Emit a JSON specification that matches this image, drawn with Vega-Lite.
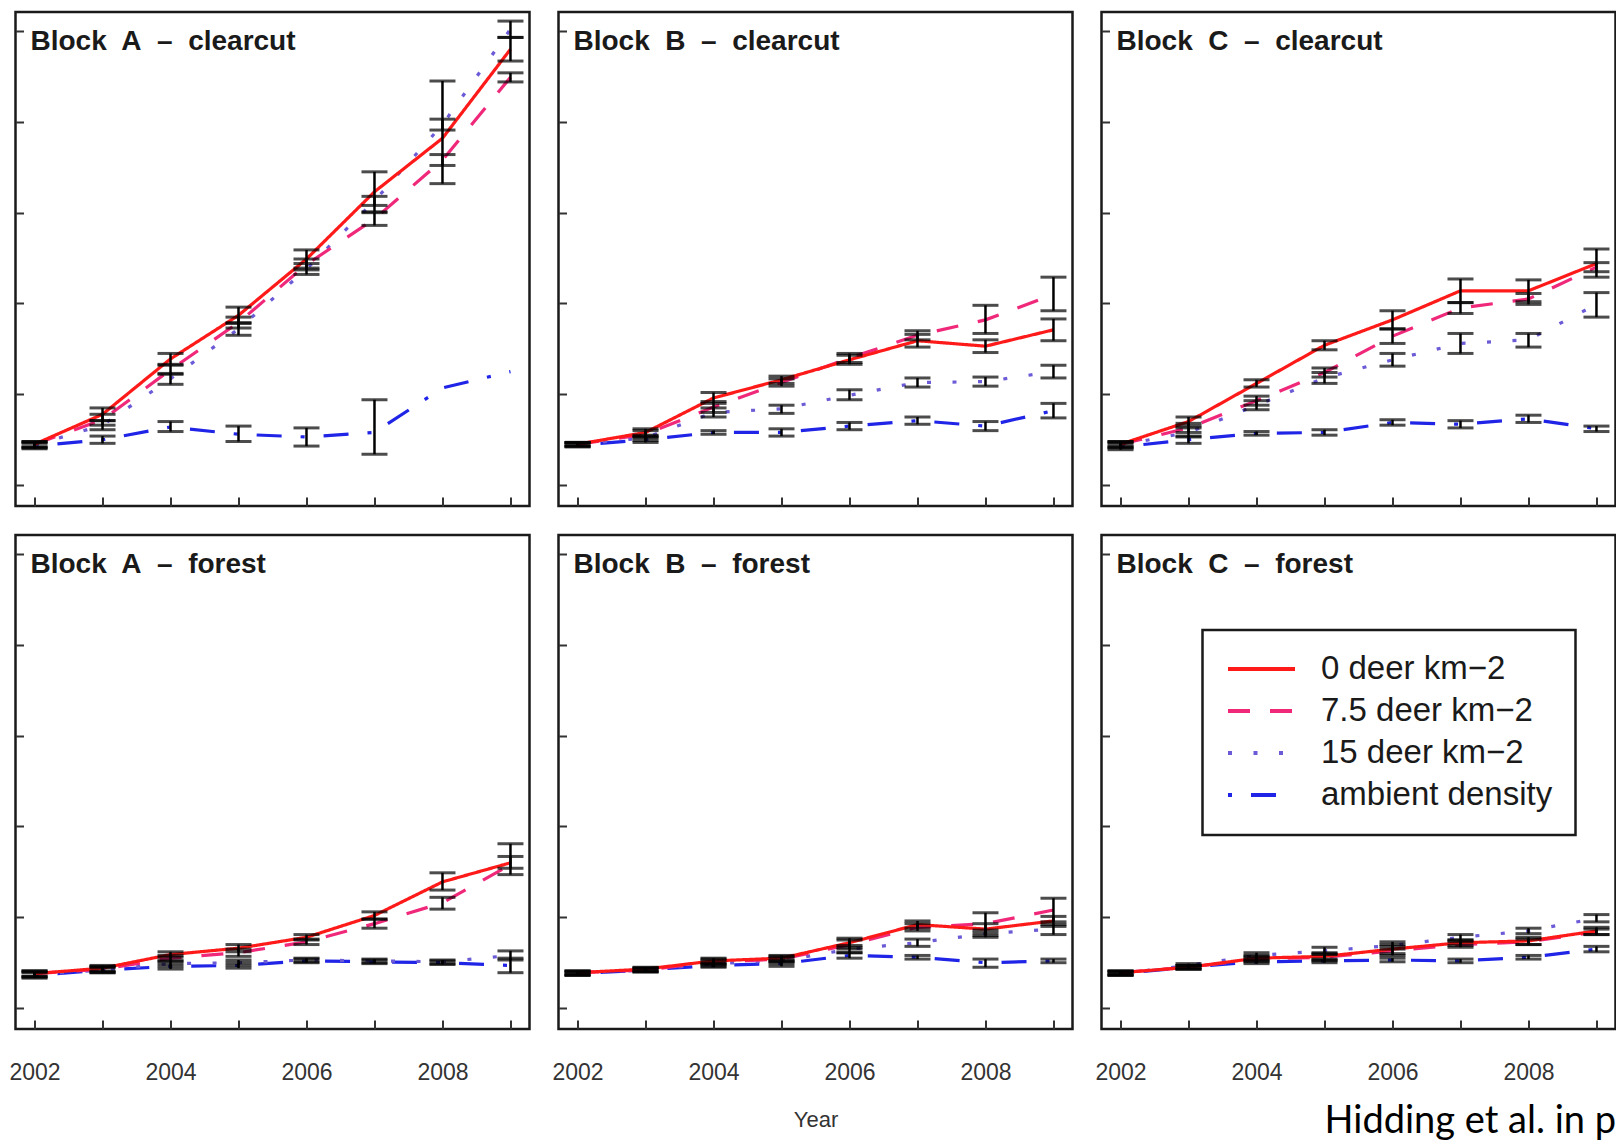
{
"$schema": "https://vega.github.io/schema/vega-lite/v6.json",
"padding": {"left": 7.5, "top": 10, "right": 0, "bottom": 0},
"background": "white",
"columns": 3,
"spacing": 29,
"bounds": "flush",
"config": {
  "view": {"stroke": "#1a1a1a", "strokeWidth": 2.5},
  "axis": {"grid": false, "domain": false},
  "legend": {"strokeWidth": 2.5}
},
"data": {"values": [
{"panel":"Block\u00a0 A\u00a0 \u2013\u00a0 clearcut","treatment":"ambient density","year":2002,"mean":0.43,"lo":0.40,"hi":0.46},
{"panel":"Block\u00a0 A\u00a0 \u2013\u00a0 clearcut","treatment":"ambient density","year":2003,"mean":0.50,"lo":0.46,"hi":0.54},
{"panel":"Block\u00a0 A\u00a0 \u2013\u00a0 clearcut","treatment":"ambient density","year":2004,"mean":0.64,"lo":0.59,"hi":0.70},
{"panel":"Block\u00a0 A\u00a0 \u2013\u00a0 clearcut","treatment":"ambient density","year":2005,"mean":0.56,"lo":0.48,"hi":0.65},
{"panel":"Block\u00a0 A\u00a0 \u2013\u00a0 clearcut","treatment":"ambient density","year":2006,"mean":0.53,"lo":0.43,"hi":0.63},
{"panel":"Block\u00a0 A\u00a0 \u2013\u00a0 clearcut","treatment":"ambient density","year":2007,"mean":0.58,"lo":0.34,"hi":0.94},
{"panel":"Block\u00a0 A\u00a0 \u2013\u00a0 clearcut","treatment":"ambient density","year":2008,"mean":1.07,"lo":null,"hi":null},
{"panel":"Block\u00a0 A\u00a0 \u2013\u00a0 clearcut","treatment":"ambient density","year":2009,"mean":1.25,"lo":null,"hi":null},
{"panel":"Block\u00a0 A\u00a0 \u2013\u00a0 clearcut","treatment":"15 deer km\u22122","year":2002,"mean":0.44,"lo":0.41,"hi":0.47},
{"panel":"Block\u00a0 A\u00a0 \u2013\u00a0 clearcut","treatment":"15 deer km\u22122","year":2003,"mean":0.66,"lo":0.61,"hi":0.71},
{"panel":"Block\u00a0 A\u00a0 \u2013\u00a0 clearcut","treatment":"15 deer km\u22122","year":2004,"mean":1.17,"lo":1.11,"hi":1.23},
{"panel":"Block\u00a0 A\u00a0 \u2013\u00a0 clearcut","treatment":"15 deer km\u22122","year":2005,"mean":1.72,"lo":1.65,"hi":1.79},
{"panel":"Block\u00a0 A\u00a0 \u2013\u00a0 clearcut","treatment":"15 deer km\u22122","year":2006,"mean":2.38,"lo":2.32,"hi":2.44},
{"panel":"Block\u00a0 A\u00a0 \u2013\u00a0 clearcut","treatment":"15 deer km\u22122","year":2007,"mean":3.13,"lo":3.08,"hi":3.18},
{"panel":"Block\u00a0 A\u00a0 \u2013\u00a0 clearcut","treatment":"15 deer km\u22122","year":2008,"mean":3.97,"lo":3.91,"hi":4.03},
{"panel":"Block\u00a0 A\u00a0 \u2013\u00a0 clearcut","treatment":"15 deer km\u22122","year":2009,"mean":5.02,"lo":4.93,"hi":5.11},
{"panel":"Block\u00a0 A\u00a0 \u2013\u00a0 clearcut","treatment":"7.5 deer km\u22122","year":2002,"mean":0.45,"lo":0.42,"hi":0.48},
{"panel":"Block\u00a0 A\u00a0 \u2013\u00a0 clearcut","treatment":"7.5 deer km\u22122","year":2003,"mean":0.72,"lo":0.66,"hi":0.78},
{"panel":"Block\u00a0 A\u00a0 \u2013\u00a0 clearcut","treatment":"7.5 deer km\u22122","year":2004,"mean":1.27,"lo":1.22,"hi":1.32},
{"panel":"Block\u00a0 A\u00a0 \u2013\u00a0 clearcut","treatment":"7.5 deer km\u22122","year":2005,"mean":1.79,"lo":1.73,"hi":1.85},
{"panel":"Block\u00a0 A\u00a0 \u2013\u00a0 clearcut","treatment":"7.5 deer km\u22122","year":2006,"mean":2.43,"lo":2.37,"hi":2.49},
{"panel":"Block\u00a0 A\u00a0 \u2013\u00a0 clearcut","treatment":"7.5 deer km\u22122","year":2007,"mean":2.93,"lo":2.86,"hi":3.00},
{"panel":"Block\u00a0 A\u00a0 \u2013\u00a0 clearcut","treatment":"7.5 deer km\u22122","year":2008,"mean":3.58,"lo":3.52,"hi":3.64},
{"panel":"Block\u00a0 A\u00a0 \u2013\u00a0 clearcut","treatment":"7.5 deer km\u22122","year":2009,"mean":4.49,"lo":4.44,"hi":4.54},
{"panel":"Block\u00a0 A\u00a0 \u2013\u00a0 clearcut","treatment":"0 deer km\u22122","year":2002,"mean":0.45,"lo":0.42,"hi":0.48},
{"panel":"Block\u00a0 A\u00a0 \u2013\u00a0 clearcut","treatment":"0 deer km\u22122","year":2003,"mean":0.78,"lo":0.71,"hi":0.85},
{"panel":"Block\u00a0 A\u00a0 \u2013\u00a0 clearcut","treatment":"0 deer km\u22122","year":2004,"mean":1.39,"lo":1.33,"hi":1.45},
{"panel":"Block\u00a0 A\u00a0 \u2013\u00a0 clearcut","treatment":"0 deer km\u22122","year":2005,"mean":1.87,"lo":1.78,"hi":1.96},
{"panel":"Block\u00a0 A\u00a0 \u2013\u00a0 clearcut","treatment":"0 deer km\u22122","year":2006,"mean":2.49,"lo":2.39,"hi":2.59},
{"panel":"Block\u00a0 A\u00a0 \u2013\u00a0 clearcut","treatment":"0 deer km\u22122","year":2007,"mean":3.23,"lo":3.01,"hi":3.45},
{"panel":"Block\u00a0 A\u00a0 \u2013\u00a0 clearcut","treatment":"0 deer km\u22122","year":2008,"mean":3.82,"lo":3.32,"hi":4.45},
{"panel":"Block\u00a0 A\u00a0 \u2013\u00a0 clearcut","treatment":"0 deer km\u22122","year":2009,"mean":4.80,"lo":4.67,"hi":4.93},
{"panel":"Block\u00a0 B\u00a0 \u2013\u00a0 clearcut","treatment":"ambient density","year":2002,"mean":0.44,"lo":0.42,"hi":0.46},
{"panel":"Block\u00a0 B\u00a0 \u2013\u00a0 clearcut","treatment":"ambient density","year":2003,"mean":0.50,"lo":0.47,"hi":0.53},
{"panel":"Block\u00a0 B\u00a0 \u2013\u00a0 clearcut","treatment":"ambient density","year":2004,"mean":0.58,"lo":0.56,"hi":0.60},
{"panel":"Block\u00a0 B\u00a0 \u2013\u00a0 clearcut","treatment":"ambient density","year":2005,"mean":0.58,"lo":0.54,"hi":0.62},
{"panel":"Block\u00a0 B\u00a0 \u2013\u00a0 clearcut","treatment":"ambient density","year":2006,"mean":0.65,"lo":0.61,"hi":0.69},
{"panel":"Block\u00a0 B\u00a0 \u2013\u00a0 clearcut","treatment":"ambient density","year":2007,"mean":0.71,"lo":0.67,"hi":0.75},
{"panel":"Block\u00a0 B\u00a0 \u2013\u00a0 clearcut","treatment":"ambient density","year":2008,"mean":0.65,"lo":0.60,"hi":0.70},
{"panel":"Block\u00a0 B\u00a0 \u2013\u00a0 clearcut","treatment":"ambient density","year":2009,"mean":0.82,"lo":0.74,"hi":0.90},
{"panel":"Block\u00a0 B\u00a0 \u2013\u00a0 clearcut","treatment":"15 deer km\u22122","year":2002,"mean":0.45,"lo":0.43,"hi":0.47},
{"panel":"Block\u00a0 B\u00a0 \u2013\u00a0 clearcut","treatment":"15 deer km\u22122","year":2003,"mean":0.52,"lo":0.49,"hi":0.55},
{"panel":"Block\u00a0 B\u00a0 \u2013\u00a0 clearcut","treatment":"15 deer km\u22122","year":2004,"mean":0.80,"lo":0.75,"hi":0.85},
{"panel":"Block\u00a0 B\u00a0 \u2013\u00a0 clearcut","treatment":"15 deer km\u22122","year":2005,"mean":0.84,"lo":0.79,"hi":0.88},
{"panel":"Block\u00a0 B\u00a0 \u2013\u00a0 clearcut","treatment":"15 deer km\u22122","year":2006,"mean":0.99,"lo":0.94,"hi":1.05},
{"panel":"Block\u00a0 B\u00a0 \u2013\u00a0 clearcut","treatment":"15 deer km\u22122","year":2007,"mean":1.13,"lo":1.08,"hi":1.18},
{"panel":"Block\u00a0 B\u00a0 \u2013\u00a0 clearcut","treatment":"15 deer km\u22122","year":2008,"mean":1.14,"lo":1.09,"hi":1.19},
{"panel":"Block\u00a0 B\u00a0 \u2013\u00a0 clearcut","treatment":"15 deer km\u22122","year":2009,"mean":1.25,"lo":1.18,"hi":1.32},
{"panel":"Block\u00a0 B\u00a0 \u2013\u00a0 clearcut","treatment":"7.5 deer km\u22122","year":2002,"mean":0.45,"lo":0.43,"hi":0.47},
{"panel":"Block\u00a0 B\u00a0 \u2013\u00a0 clearcut","treatment":"7.5 deer km\u22122","year":2003,"mean":0.56,"lo":0.52,"hi":0.60},
{"panel":"Block\u00a0 B\u00a0 \u2013\u00a0 clearcut","treatment":"7.5 deer km\u22122","year":2004,"mean":0.86,"lo":0.80,"hi":0.92},
{"panel":"Block\u00a0 B\u00a0 \u2013\u00a0 clearcut","treatment":"7.5 deer km\u22122","year":2005,"mean":1.13,"lo":1.09,"hi":1.17},
{"panel":"Block\u00a0 B\u00a0 \u2013\u00a0 clearcut","treatment":"7.5 deer km\u22122","year":2006,"mean":1.40,"lo":1.35,"hi":1.45},
{"panel":"Block\u00a0 B\u00a0 \u2013\u00a0 clearcut","treatment":"7.5 deer km\u22122","year":2007,"mean":1.65,"lo":1.60,"hi":1.70},
{"panel":"Block\u00a0 B\u00a0 \u2013\u00a0 clearcut","treatment":"7.5 deer km\u22122","year":2008,"mean":1.82,"lo":1.67,"hi":1.98},
{"panel":"Block\u00a0 B\u00a0 \u2013\u00a0 clearcut","treatment":"7.5 deer km\u22122","year":2009,"mean":2.10,"lo":1.92,"hi":2.29},
{"panel":"Block\u00a0 B\u00a0 \u2013\u00a0 clearcut","treatment":"0 deer km\u22122","year":2002,"mean":0.45,"lo":0.43,"hi":0.47},
{"panel":"Block\u00a0 B\u00a0 \u2013\u00a0 clearcut","treatment":"0 deer km\u22122","year":2003,"mean":0.58,"lo":0.54,"hi":0.62},
{"panel":"Block\u00a0 B\u00a0 \u2013\u00a0 clearcut","treatment":"0 deer km\u22122","year":2004,"mean":0.96,"lo":0.90,"hi":1.02},
{"panel":"Block\u00a0 B\u00a0 \u2013\u00a0 clearcut","treatment":"0 deer km\u22122","year":2005,"mean":1.16,"lo":1.12,"hi":1.20},
{"panel":"Block\u00a0 B\u00a0 \u2013\u00a0 clearcut","treatment":"0 deer km\u22122","year":2006,"mean":1.38,"lo":1.33,"hi":1.43},
{"panel":"Block\u00a0 B\u00a0 \u2013\u00a0 clearcut","treatment":"0 deer km\u22122","year":2007,"mean":1.59,"lo":1.52,"hi":1.66},
{"panel":"Block\u00a0 B\u00a0 \u2013\u00a0 clearcut","treatment":"0 deer km\u22122","year":2008,"mean":1.53,"lo":1.46,"hi":1.60},
{"panel":"Block\u00a0 B\u00a0 \u2013\u00a0 clearcut","treatment":"0 deer km\u22122","year":2009,"mean":1.71,"lo":1.59,"hi":1.83},
{"panel":"Block\u00a0 C\u00a0 \u2013\u00a0 clearcut","treatment":"ambient density","year":2002,"mean":0.42,"lo":0.39,"hi":0.45},
{"panel":"Block\u00a0 C\u00a0 \u2013\u00a0 clearcut","treatment":"ambient density","year":2003,"mean":0.50,"lo":0.46,"hi":0.54},
{"panel":"Block\u00a0 C\u00a0 \u2013\u00a0 clearcut","treatment":"ambient density","year":2004,"mean":0.57,"lo":0.55,"hi":0.59},
{"panel":"Block\u00a0 C\u00a0 \u2013\u00a0 clearcut","treatment":"ambient density","year":2005,"mean":0.58,"lo":0.55,"hi":0.61},
{"panel":"Block\u00a0 C\u00a0 \u2013\u00a0 clearcut","treatment":"ambient density","year":2006,"mean":0.69,"lo":0.66,"hi":0.72},
{"panel":"Block\u00a0 C\u00a0 \u2013\u00a0 clearcut","treatment":"ambient density","year":2007,"mean":0.67,"lo":0.63,"hi":0.71},
{"panel":"Block\u00a0 C\u00a0 \u2013\u00a0 clearcut","treatment":"ambient density","year":2008,"mean":0.73,"lo":0.69,"hi":0.77},
{"panel":"Block\u00a0 C\u00a0 \u2013\u00a0 clearcut","treatment":"ambient density","year":2009,"mean":0.62,"lo":0.59,"hi":0.65},
{"panel":"Block\u00a0 C\u00a0 \u2013\u00a0 clearcut","treatment":"15 deer km\u22122","year":2002,"mean":0.44,"lo":0.41,"hi":0.47},
{"panel":"Block\u00a0 C\u00a0 \u2013\u00a0 clearcut","treatment":"15 deer km\u22122","year":2003,"mean":0.58,"lo":0.53,"hi":0.63},
{"panel":"Block\u00a0 C\u00a0 \u2013\u00a0 clearcut","treatment":"15 deer km\u22122","year":2004,"mean":0.88,"lo":0.83,"hi":0.93},
{"panel":"Block\u00a0 C\u00a0 \u2013\u00a0 clearcut","treatment":"15 deer km\u22122","year":2005,"mean":1.18,"lo":1.12,"hi":1.24},
{"panel":"Block\u00a0 C\u00a0 \u2013\u00a0 clearcut","treatment":"15 deer km\u22122","year":2006,"mean":1.38,"lo":1.31,"hi":1.45},
{"panel":"Block\u00a0 C\u00a0 \u2013\u00a0 clearcut","treatment":"15 deer km\u22122","year":2007,"mean":1.56,"lo":1.45,"hi":1.67},
{"panel":"Block\u00a0 C\u00a0 \u2013\u00a0 clearcut","treatment":"15 deer km\u22122","year":2008,"mean":1.60,"lo":1.52,"hi":1.67},
{"panel":"Block\u00a0 C\u00a0 \u2013\u00a0 clearcut","treatment":"15 deer km\u22122","year":2009,"mean":1.99,"lo":1.85,"hi":2.12},
{"panel":"Block\u00a0 C\u00a0 \u2013\u00a0 clearcut","treatment":"7.5 deer km\u22122","year":2002,"mean":0.45,"lo":0.42,"hi":0.48},
{"panel":"Block\u00a0 C\u00a0 \u2013\u00a0 clearcut","treatment":"7.5 deer km\u22122","year":2003,"mean":0.63,"lo":0.58,"hi":0.68},
{"panel":"Block\u00a0 C\u00a0 \u2013\u00a0 clearcut","treatment":"7.5 deer km\u22122","year":2004,"mean":0.93,"lo":0.88,"hi":0.98},
{"panel":"Block\u00a0 C\u00a0 \u2013\u00a0 clearcut","treatment":"7.5 deer km\u22122","year":2005,"mean":1.24,"lo":1.19,"hi":1.29},
{"panel":"Block\u00a0 C\u00a0 \u2013\u00a0 clearcut","treatment":"7.5 deer km\u22122","year":2006,"mean":1.64,"lo":1.56,"hi":1.72},
{"panel":"Block\u00a0 C\u00a0 \u2013\u00a0 clearcut","treatment":"7.5 deer km\u22122","year":2007,"mean":1.95,"lo":1.89,"hi":2.01},
{"panel":"Block\u00a0 C\u00a0 \u2013\u00a0 clearcut","treatment":"7.5 deer km\u22122","year":2008,"mean":2.05,"lo":1.99,"hi":2.11},
{"panel":"Block\u00a0 C\u00a0 \u2013\u00a0 clearcut","treatment":"7.5 deer km\u22122","year":2009,"mean":2.40,"lo":2.35,"hi":2.45},
{"panel":"Block\u00a0 C\u00a0 \u2013\u00a0 clearcut","treatment":"0 deer km\u22122","year":2002,"mean":0.45,"lo":0.42,"hi":0.48},
{"panel":"Block\u00a0 C\u00a0 \u2013\u00a0 clearcut","treatment":"0 deer km\u22122","year":2003,"mean":0.70,"lo":0.65,"hi":0.75},
{"panel":"Block\u00a0 C\u00a0 \u2013\u00a0 clearcut","treatment":"0 deer km\u22122","year":2004,"mean":1.12,"lo":1.08,"hi":1.16},
{"panel":"Block\u00a0 C\u00a0 \u2013\u00a0 clearcut","treatment":"0 deer km\u22122","year":2005,"mean":1.54,"lo":1.49,"hi":1.59},
{"panel":"Block\u00a0 C\u00a0 \u2013\u00a0 clearcut","treatment":"0 deer km\u22122","year":2006,"mean":1.82,"lo":1.72,"hi":1.92},
{"panel":"Block\u00a0 C\u00a0 \u2013\u00a0 clearcut","treatment":"0 deer km\u22122","year":2007,"mean":2.14,"lo":2.01,"hi":2.27},
{"panel":"Block\u00a0 C\u00a0 \u2013\u00a0 clearcut","treatment":"0 deer km\u22122","year":2008,"mean":2.14,"lo":2.02,"hi":2.26},
{"panel":"Block\u00a0 C\u00a0 \u2013\u00a0 clearcut","treatment":"0 deer km\u22122","year":2009,"mean":2.44,"lo":2.29,"hi":2.60},
{"panel":"Block\u00a0 A\u00a0 \u2013\u00a0 forest","treatment":"ambient density","year":2002,"mean":0.36,"lo":0.33,"hi":0.39},
{"panel":"Block\u00a0 A\u00a0 \u2013\u00a0 forest","treatment":"ambient density","year":2003,"mean":0.42,"lo":0.39,"hi":0.45},
{"panel":"Block\u00a0 A\u00a0 \u2013\u00a0 forest","treatment":"ambient density","year":2004,"mean":0.46,"lo":0.43,"hi":0.49},
{"panel":"Block\u00a0 A\u00a0 \u2013\u00a0 forest","treatment":"ambient density","year":2005,"mean":0.47,"lo":0.44,"hi":0.50},
{"panel":"Block\u00a0 A\u00a0 \u2013\u00a0 forest","treatment":"ambient density","year":2006,"mean":0.52,"lo":0.50,"hi":0.54},
{"panel":"Block\u00a0 A\u00a0 \u2013\u00a0 forest","treatment":"ambient density","year":2007,"mean":0.51,"lo":0.49,"hi":0.53},
{"panel":"Block\u00a0 A\u00a0 \u2013\u00a0 forest","treatment":"ambient density","year":2008,"mean":0.50,"lo":0.48,"hi":0.52},
{"panel":"Block\u00a0 A\u00a0 \u2013\u00a0 forest","treatment":"ambient density","year":2009,"mean":0.47,"lo":0.39,"hi":0.55},
{"panel":"Block\u00a0 A\u00a0 \u2013\u00a0 forest","treatment":"15 deer km\u22122","year":2002,"mean":0.37,"lo":0.34,"hi":0.40},
{"panel":"Block\u00a0 A\u00a0 \u2013\u00a0 forest","treatment":"15 deer km\u22122","year":2003,"mean":0.42,"lo":0.39,"hi":0.45},
{"panel":"Block\u00a0 A\u00a0 \u2013\u00a0 forest","treatment":"15 deer km\u22122","year":2004,"mean":0.49,"lo":0.46,"hi":0.52},
{"panel":"Block\u00a0 A\u00a0 \u2013\u00a0 forest","treatment":"15 deer km\u22122","year":2005,"mean":0.50,"lo":0.47,"hi":0.53},
{"panel":"Block\u00a0 A\u00a0 \u2013\u00a0 forest","treatment":"15 deer km\u22122","year":2006,"mean":0.53,"lo":0.51,"hi":0.55},
{"panel":"Block\u00a0 A\u00a0 \u2013\u00a0 forest","treatment":"15 deer km\u22122","year":2007,"mean":0.52,"lo":0.50,"hi":0.54},
{"panel":"Block\u00a0 A\u00a0 \u2013\u00a0 forest","treatment":"15 deer km\u22122","year":2008,"mean":0.51,"lo":0.49,"hi":0.53},
{"panel":"Block\u00a0 A\u00a0 \u2013\u00a0 forest","treatment":"15 deer km\u22122","year":2009,"mean":0.58,"lo":0.53,"hi":0.63},
{"panel":"Block\u00a0 A\u00a0 \u2013\u00a0 forest","treatment":"7.5 deer km\u22122","year":2002,"mean":0.38,"lo":0.35,"hi":0.41},
{"panel":"Block\u00a0 A\u00a0 \u2013\u00a0 forest","treatment":"7.5 deer km\u22122","year":2003,"mean":0.43,"lo":0.40,"hi":0.46},
{"panel":"Block\u00a0 A\u00a0 \u2013\u00a0 forest","treatment":"7.5 deer km\u22122","year":2004,"mean":0.55,"lo":0.52,"hi":0.58},
{"panel":"Block\u00a0 A\u00a0 \u2013\u00a0 forest","treatment":"7.5 deer km\u22122","year":2005,"mean":0.61,"lo":0.57,"hi":0.65},
{"panel":"Block\u00a0 A\u00a0 \u2013\u00a0 forest","treatment":"7.5 deer km\u22122","year":2006,"mean":0.73,"lo":0.70,"hi":0.76},
{"panel":"Block\u00a0 A\u00a0 \u2013\u00a0 forest","treatment":"7.5 deer km\u22122","year":2007,"mean":0.93,"lo":0.88,"hi":0.98},
{"panel":"Block\u00a0 A\u00a0 \u2013\u00a0 forest","treatment":"7.5 deer km\u22122","year":2008,"mean":1.16,"lo":1.09,"hi":1.22},
{"panel":"Block\u00a0 A\u00a0 \u2013\u00a0 forest","treatment":"7.5 deer km\u22122","year":2009,"mean":1.58,"lo":1.54,"hi":1.67},
{"panel":"Block\u00a0 A\u00a0 \u2013\u00a0 forest","treatment":"0 deer km\u22122","year":2002,"mean":0.38,"lo":0.35,"hi":0.41},
{"panel":"Block\u00a0 A\u00a0 \u2013\u00a0 forest","treatment":"0 deer km\u22122","year":2003,"mean":0.44,"lo":0.41,"hi":0.47},
{"panel":"Block\u00a0 A\u00a0 \u2013\u00a0 forest","treatment":"0 deer km\u22122","year":2004,"mean":0.59,"lo":0.56,"hi":0.62},
{"panel":"Block\u00a0 A\u00a0 \u2013\u00a0 forest","treatment":"0 deer km\u22122","year":2005,"mean":0.66,"lo":0.62,"hi":0.70},
{"panel":"Block\u00a0 A\u00a0 \u2013\u00a0 forest","treatment":"0 deer km\u22122","year":2006,"mean":0.78,"lo":0.75,"hi":0.81},
{"panel":"Block\u00a0 A\u00a0 \u2013\u00a0 forest","treatment":"0 deer km\u22122","year":2007,"mean":1.02,"lo":0.98,"hi":1.06},
{"panel":"Block\u00a0 A\u00a0 \u2013\u00a0 forest","treatment":"0 deer km\u22122","year":2008,"mean":1.39,"lo":1.30,"hi":1.49},
{"panel":"Block\u00a0 A\u00a0 \u2013\u00a0 forest","treatment":"0 deer km\u22122","year":2009,"mean":1.60,"lo":1.47,"hi":1.81},
{"panel":"Block\u00a0 B\u00a0 \u2013\u00a0 forest","treatment":"ambient density","year":2002,"mean":0.38,"lo":0.36,"hi":0.40},
{"panel":"Block\u00a0 B\u00a0 \u2013\u00a0 forest","treatment":"ambient density","year":2003,"mean":0.42,"lo":0.40,"hi":0.44},
{"panel":"Block\u00a0 B\u00a0 \u2013\u00a0 forest","treatment":"ambient density","year":2004,"mean":0.47,"lo":0.45,"hi":0.49},
{"panel":"Block\u00a0 B\u00a0 \u2013\u00a0 forest","treatment":"ambient density","year":2005,"mean":0.49,"lo":0.46,"hi":0.52},
{"panel":"Block\u00a0 B\u00a0 \u2013\u00a0 forest","treatment":"ambient density","year":2006,"mean":0.58,"lo":0.55,"hi":0.61},
{"panel":"Block\u00a0 B\u00a0 \u2013\u00a0 forest","treatment":"ambient density","year":2007,"mean":0.56,"lo":0.54,"hi":0.58},
{"panel":"Block\u00a0 B\u00a0 \u2013\u00a0 forest","treatment":"ambient density","year":2008,"mean":0.50,"lo":0.45,"hi":0.54},
{"panel":"Block\u00a0 B\u00a0 \u2013\u00a0 forest","treatment":"ambient density","year":2009,"mean":0.52,"lo":0.50,"hi":0.54},
{"panel":"Block\u00a0 B\u00a0 \u2013\u00a0 forest","treatment":"15 deer km\u22122","year":2002,"mean":0.38,"lo":0.36,"hi":0.40},
{"panel":"Block\u00a0 B\u00a0 \u2013\u00a0 forest","treatment":"15 deer km\u22122","year":2003,"mean":0.42,"lo":0.40,"hi":0.44},
{"panel":"Block\u00a0 B\u00a0 \u2013\u00a0 forest","treatment":"15 deer km\u22122","year":2004,"mean":0.49,"lo":0.46,"hi":0.52},
{"panel":"Block\u00a0 B\u00a0 \u2013\u00a0 forest","treatment":"15 deer km\u22122","year":2005,"mean":0.52,"lo":0.49,"hi":0.55},
{"panel":"Block\u00a0 B\u00a0 \u2013\u00a0 forest","treatment":"15 deer km\u22122","year":2006,"mean":0.65,"lo":0.61,"hi":0.69},
{"panel":"Block\u00a0 B\u00a0 \u2013\u00a0 forest","treatment":"15 deer km\u22122","year":2007,"mean":0.72,"lo":0.68,"hi":0.76},
{"panel":"Block\u00a0 B\u00a0 \u2013\u00a0 forest","treatment":"15 deer km\u22122","year":2008,"mean":0.82,"lo":0.78,"hi":0.86},
{"panel":"Block\u00a0 B\u00a0 \u2013\u00a0 forest","treatment":"15 deer km\u22122","year":2009,"mean":0.87,"lo":0.81,"hi":0.92},
{"panel":"Block\u00a0 B\u00a0 \u2013\u00a0 forest","treatment":"7.5 deer km\u22122","year":2002,"mean":0.39,"lo":0.37,"hi":0.41},
{"panel":"Block\u00a0 B\u00a0 \u2013\u00a0 forest","treatment":"7.5 deer km\u22122","year":2003,"mean":0.42,"lo":0.40,"hi":0.44},
{"panel":"Block\u00a0 B\u00a0 \u2013\u00a0 forest","treatment":"7.5 deer km\u22122","year":2004,"mean":0.51,"lo":0.48,"hi":0.54},
{"panel":"Block\u00a0 B\u00a0 \u2013\u00a0 forest","treatment":"7.5 deer km\u22122","year":2005,"mean":0.54,"lo":0.51,"hi":0.57},
{"panel":"Block\u00a0 B\u00a0 \u2013\u00a0 forest","treatment":"7.5 deer km\u22122","year":2006,"mean":0.70,"lo":0.65,"hi":0.75},
{"panel":"Block\u00a0 B\u00a0 \u2013\u00a0 forest","treatment":"7.5 deer km\u22122","year":2007,"mean":0.89,"lo":0.85,"hi":0.93},
{"panel":"Block\u00a0 B\u00a0 \u2013\u00a0 forest","treatment":"7.5 deer km\u22122","year":2008,"mean":0.93,"lo":0.83,"hi":1.05},
{"panel":"Block\u00a0 B\u00a0 \u2013\u00a0 forest","treatment":"7.5 deer km\u22122","year":2009,"mean":1.08,"lo":0.95,"hi":1.21},
{"panel":"Block\u00a0 B\u00a0 \u2013\u00a0 forest","treatment":"0 deer km\u22122","year":2002,"mean":0.39,"lo":0.37,"hi":0.41},
{"panel":"Block\u00a0 B\u00a0 \u2013\u00a0 forest","treatment":"0 deer km\u22122","year":2003,"mean":0.43,"lo":0.41,"hi":0.45},
{"panel":"Block\u00a0 B\u00a0 \u2013\u00a0 forest","treatment":"0 deer km\u22122","year":2004,"mean":0.52,"lo":0.49,"hi":0.55},
{"panel":"Block\u00a0 B\u00a0 \u2013\u00a0 forest","treatment":"0 deer km\u22122","year":2005,"mean":0.55,"lo":0.52,"hi":0.58},
{"panel":"Block\u00a0 B\u00a0 \u2013\u00a0 forest","treatment":"0 deer km\u22122","year":2006,"mean":0.72,"lo":0.67,"hi":0.77},
{"panel":"Block\u00a0 B\u00a0 \u2013\u00a0 forest","treatment":"0 deer km\u22122","year":2007,"mean":0.92,"lo":0.88,"hi":0.96},
{"panel":"Block\u00a0 B\u00a0 \u2013\u00a0 forest","treatment":"0 deer km\u22122","year":2008,"mean":0.87,"lo":0.80,"hi":0.93},
{"panel":"Block\u00a0 B\u00a0 \u2013\u00a0 forest","treatment":"0 deer km\u22122","year":2009,"mean":0.96,"lo":0.90,"hi":1.01},
{"panel":"Block\u00a0 C\u00a0 \u2013\u00a0 forest","treatment":"ambient density","year":2002,"mean":0.38,"lo":0.36,"hi":0.40},
{"panel":"Block\u00a0 C\u00a0 \u2013\u00a0 forest","treatment":"ambient density","year":2003,"mean":0.45,"lo":0.43,"hi":0.47},
{"panel":"Block\u00a0 C\u00a0 \u2013\u00a0 forest","treatment":"ambient density","year":2004,"mean":0.51,"lo":0.49,"hi":0.53},
{"panel":"Block\u00a0 C\u00a0 \u2013\u00a0 forest","treatment":"ambient density","year":2005,"mean":0.52,"lo":0.50,"hi":0.54},
{"panel":"Block\u00a0 C\u00a0 \u2013\u00a0 forest","treatment":"ambient density","year":2006,"mean":0.53,"lo":0.51,"hi":0.55},
{"panel":"Block\u00a0 C\u00a0 \u2013\u00a0 forest","treatment":"ambient density","year":2007,"mean":0.52,"lo":0.50,"hi":0.54},
{"panel":"Block\u00a0 C\u00a0 \u2013\u00a0 forest","treatment":"ambient density","year":2008,"mean":0.56,"lo":0.54,"hi":0.58},
{"panel":"Block\u00a0 C\u00a0 \u2013\u00a0 forest","treatment":"ambient density","year":2009,"mean":0.65,"lo":0.62,"hi":0.68},
{"panel":"Block\u00a0 C\u00a0 \u2013\u00a0 forest","treatment":"15 deer km\u22122","year":2002,"mean":0.38,"lo":0.36,"hi":0.40},
{"panel":"Block\u00a0 C\u00a0 \u2013\u00a0 forest","treatment":"15 deer km\u22122","year":2003,"mean":0.47,"lo":0.45,"hi":0.49},
{"panel":"Block\u00a0 C\u00a0 \u2013\u00a0 forest","treatment":"15 deer km\u22122","year":2004,"mean":0.58,"lo":0.55,"hi":0.61},
{"panel":"Block\u00a0 C\u00a0 \u2013\u00a0 forest","treatment":"15 deer km\u22122","year":2005,"mean":0.63,"lo":0.59,"hi":0.67},
{"panel":"Block\u00a0 C\u00a0 \u2013\u00a0 forest","treatment":"15 deer km\u22122","year":2006,"mean":0.69,"lo":0.65,"hi":0.73},
{"panel":"Block\u00a0 C\u00a0 \u2013\u00a0 forest","treatment":"15 deer km\u22122","year":2007,"mean":0.78,"lo":0.75,"hi":0.81},
{"panel":"Block\u00a0 C\u00a0 \u2013\u00a0 forest","treatment":"15 deer km\u22122","year":2008,"mean":0.85,"lo":0.82,"hi":0.88},
{"panel":"Block\u00a0 C\u00a0 \u2013\u00a0 forest","treatment":"15 deer km\u22122","year":2009,"mean":0.99,"lo":0.95,"hi":1.03},
{"panel":"Block\u00a0 C\u00a0 \u2013\u00a0 forest","treatment":"7.5 deer km\u22122","year":2002,"mean":0.39,"lo":0.37,"hi":0.41},
{"panel":"Block\u00a0 C\u00a0 \u2013\u00a0 forest","treatment":"7.5 deer km\u22122","year":2003,"mean":0.45,"lo":0.43,"hi":0.47},
{"panel":"Block\u00a0 C\u00a0 \u2013\u00a0 forest","treatment":"7.5 deer km\u22122","year":2004,"mean":0.54,"lo":0.51,"hi":0.57},
{"panel":"Block\u00a0 C\u00a0 \u2013\u00a0 forest","treatment":"7.5 deer km\u22122","year":2005,"mean":0.56,"lo":0.52,"hi":0.60},
{"panel":"Block\u00a0 C\u00a0 \u2013\u00a0 forest","treatment":"7.5 deer km\u22122","year":2006,"mean":0.63,"lo":0.58,"hi":0.68},
{"panel":"Block\u00a0 C\u00a0 \u2013\u00a0 forest","treatment":"7.5 deer km\u22122","year":2007,"mean":0.70,"lo":0.67,"hi":0.73},
{"panel":"Block\u00a0 C\u00a0 \u2013\u00a0 forest","treatment":"7.5 deer km\u22122","year":2008,"mean":0.73,"lo":0.70,"hi":0.76},
{"panel":"Block\u00a0 C\u00a0 \u2013\u00a0 forest","treatment":"7.5 deer km\u22122","year":2009,"mean":0.84,"lo":0.81,"hi":0.87},
{"panel":"Block\u00a0 C\u00a0 \u2013\u00a0 forest","treatment":"0 deer km\u22122","year":2002,"mean":0.39,"lo":0.37,"hi":0.41},
{"panel":"Block\u00a0 C\u00a0 \u2013\u00a0 forest","treatment":"0 deer km\u22122","year":2003,"mean":0.45,"lo":0.43,"hi":0.47},
{"panel":"Block\u00a0 C\u00a0 \u2013\u00a0 forest","treatment":"0 deer km\u22122","year":2004,"mean":0.55,"lo":0.52,"hi":0.58},
{"panel":"Block\u00a0 C\u00a0 \u2013\u00a0 forest","treatment":"0 deer km\u22122","year":2005,"mean":0.57,"lo":0.53,"hi":0.61},
{"panel":"Block\u00a0 C\u00a0 \u2013\u00a0 forest","treatment":"0 deer km\u22122","year":2006,"mean":0.65,"lo":0.60,"hi":0.70},
{"panel":"Block\u00a0 C\u00a0 \u2013\u00a0 forest","treatment":"0 deer km\u22122","year":2007,"mean":0.72,"lo":0.69,"hi":0.75},
{"panel":"Block\u00a0 C\u00a0 \u2013\u00a0 forest","treatment":"0 deer km\u22122","year":2008,"mean":0.74,"lo":0.70,"hi":0.78},
{"panel":"Block\u00a0 C\u00a0 \u2013\u00a0 forest","treatment":"0 deer km\u22122","year":2009,"mean":0.85,"lo":0.81,"hi":0.89}
]},
"concat": [
{
 "width": 514, "height": 494,
 "transform": [{"filter": "datum.panel === 'Block\u00a0 A\u00a0 \u2013\u00a0 clearcut'"}],
 "layer": [
  {"mark": {"type": "line", "strokeWidth": 3.2, "strokeCap": "butt"},
   "encoding": {
    "x": {"field": "year", "type": "quantitative", "title": null, "scale": {"domain": [2001.72, 2009.28], "nice": false, "zero": false}, "axis": {"values": [2002,2003,2004,2005,2006,2007,2008,2009], "labels": false, "tickSize": -9, "tickWidth": 2, "tickColor": "#333", "title": null}},
    "y": {"field": "mean", "type": "quantitative", "title": null, "scale": {"domain": [-0.23, 5.21], "nice": false, "zero": false}, "axis": {"values": [0,1,2,3,4,5], "labels": false, "tickSize": -8, "tickWidth": 2, "tickColor": "#333", "title": null}},
    "color": {"field": "treatment", "type": "nominal", "scale": {"domain": ["0 deer km\u22122","7.5 deer km\u22122","15 deer km\u22122","ambient density"], "range": ["#ff1a1a","#f0287a","#6b5bd6","#1f24e6"]}, "legend": {"title": null, "orient": "none", "legendX": 1187, "legendY": 618, "direction": "vertical", "symbolType": "M-6.7,0H6.7", "symbolSize": 100, "symbolStrokeWidth": 4, "symbolOffset": 20, "labelOffset": 43, "labelFont": "Liberation Sans", "labelFontSize": 33, "labelColor": "#1a1a1a", "labelLimit": 400, "padding": 22.5, "rowPadding": 8, "strokeColor": "#1a1a1a", "fillColor": "white"}},
    "strokeDash": {"field": "treatment", "type": "nominal", "scale": {"domain": ["0 deer km\u22122","7.5 deer km\u22122","15 deer km\u22122","ambient density"], "range": [[1,0],[22,20],[4,21.5],[4,19,25,19]]}, "legend": {"title": null, "orient": "none", "legendX": 1187, "legendY": 618, "direction": "vertical", "symbolType": "M-6.7,0H6.7", "symbolSize": 100, "symbolStrokeWidth": 4, "symbolOffset": 20, "labelOffset": 43, "labelFont": "Liberation Sans", "labelFontSize": 33, "labelColor": "#1a1a1a", "labelLimit": 400, "padding": 22.5, "rowPadding": 8, "strokeColor": "#1a1a1a", "fillColor": "white"}}
   }},
  {"transform": [{"filter": "datum.lo != null"}],
   "mark": {"type": "errorbar", "color": "black", "ticks": {"size": 26, "thickness": 3, "color": "black"}, "rule": {"strokeWidth": 2.5, "color": "black"}},
   "encoding": {"x": {"field": "year", "type": "quantitative", "title": null}, "y": {"field": "lo", "type": "quantitative", "title": null}, "y2": {"field": "hi"}}},
  {"transform": [{"filter": "datum.year === 2002 && datum.treatment === 'ambient density'"}],
   "mark": {"type": "text", "align": "left", "baseline": "alphabetic", "font": "Liberation Sans", "fontWeight": "bold", "fontSize": 28, "color": "#1a1a1a"},
   "encoding": {"x": {"datum": 2001.94}, "y": {"datum": 4.79}, "text": {"field": "panel"}}}
 ]
},
{
 "width": 514, "height": 494,
 "transform": [{"filter": "datum.panel === 'Block\u00a0 B\u00a0 \u2013\u00a0 clearcut'"}],
 "layer": [
  {"mark": {"type": "line", "strokeWidth": 3.2, "strokeCap": "butt"},
   "encoding": {
    "x": {"field": "year", "type": "quantitative", "title": null, "scale": {"domain": [2001.72, 2009.28], "nice": false, "zero": false}, "axis": {"values": [2002,2003,2004,2005,2006,2007,2008,2009], "labels": false, "tickSize": -9, "tickWidth": 2, "tickColor": "#333", "title": null}},
    "y": {"field": "mean", "type": "quantitative", "title": null, "scale": {"domain": [-0.23, 5.21], "nice": false, "zero": false}, "axis": {"values": [0,1,2,3,4,5], "labels": false, "tickSize": -8, "tickWidth": 2, "tickColor": "#333", "title": null}},
    "color": {"field": "treatment", "type": "nominal", "scale": {"domain": ["0 deer km\u22122","7.5 deer km\u22122","15 deer km\u22122","ambient density"], "range": ["#ff1a1a","#f0287a","#6b5bd6","#1f24e6"]}, "legend": {"title": null, "orient": "none", "legendX": 1187, "legendY": 618, "direction": "vertical", "symbolType": "M-6.7,0H6.7", "symbolSize": 100, "symbolStrokeWidth": 4, "symbolOffset": 20, "labelOffset": 43, "labelFont": "Liberation Sans", "labelFontSize": 33, "labelColor": "#1a1a1a", "labelLimit": 400, "padding": 22.5, "rowPadding": 8, "strokeColor": "#1a1a1a", "fillColor": "white"}},
    "strokeDash": {"field": "treatment", "type": "nominal", "scale": {"domain": ["0 deer km\u22122","7.5 deer km\u22122","15 deer km\u22122","ambient density"], "range": [[1,0],[22,20],[4,21.5],[4,19,25,19]]}, "legend": {"title": null, "orient": "none", "legendX": 1187, "legendY": 618, "direction": "vertical", "symbolType": "M-6.7,0H6.7", "symbolSize": 100, "symbolStrokeWidth": 4, "symbolOffset": 20, "labelOffset": 43, "labelFont": "Liberation Sans", "labelFontSize": 33, "labelColor": "#1a1a1a", "labelLimit": 400, "padding": 22.5, "rowPadding": 8, "strokeColor": "#1a1a1a", "fillColor": "white"}}
   }},
  {"transform": [{"filter": "datum.lo != null"}],
   "mark": {"type": "errorbar", "color": "black", "ticks": {"size": 26, "thickness": 3, "color": "black"}, "rule": {"strokeWidth": 2.5, "color": "black"}},
   "encoding": {"x": {"field": "year", "type": "quantitative", "title": null}, "y": {"field": "lo", "type": "quantitative", "title": null}, "y2": {"field": "hi"}}},
  {"transform": [{"filter": "datum.year === 2002 && datum.treatment === 'ambient density'"}],
   "mark": {"type": "text", "align": "left", "baseline": "alphabetic", "font": "Liberation Sans", "fontWeight": "bold", "fontSize": 28, "color": "#1a1a1a"},
   "encoding": {"x": {"datum": 2001.94}, "y": {"datum": 4.79}, "text": {"field": "panel"}}}
 ]
},
{
 "width": 514, "height": 494,
 "transform": [{"filter": "datum.panel === 'Block\u00a0 C\u00a0 \u2013\u00a0 clearcut'"}],
 "layer": [
  {"mark": {"type": "line", "strokeWidth": 3.2, "strokeCap": "butt"},
   "encoding": {
    "x": {"field": "year", "type": "quantitative", "title": null, "scale": {"domain": [2001.72, 2009.28], "nice": false, "zero": false}, "axis": {"values": [2002,2003,2004,2005,2006,2007,2008,2009], "labels": false, "tickSize": -9, "tickWidth": 2, "tickColor": "#333", "title": null}},
    "y": {"field": "mean", "type": "quantitative", "title": null, "scale": {"domain": [-0.23, 5.21], "nice": false, "zero": false}, "axis": {"values": [0,1,2,3,4,5], "labels": false, "tickSize": -8, "tickWidth": 2, "tickColor": "#333", "title": null}},
    "color": {"field": "treatment", "type": "nominal", "scale": {"domain": ["0 deer km\u22122","7.5 deer km\u22122","15 deer km\u22122","ambient density"], "range": ["#ff1a1a","#f0287a","#6b5bd6","#1f24e6"]}, "legend": {"title": null, "orient": "none", "legendX": 1187, "legendY": 618, "direction": "vertical", "symbolType": "M-6.7,0H6.7", "symbolSize": 100, "symbolStrokeWidth": 4, "symbolOffset": 20, "labelOffset": 43, "labelFont": "Liberation Sans", "labelFontSize": 33, "labelColor": "#1a1a1a", "labelLimit": 400, "padding": 22.5, "rowPadding": 8, "strokeColor": "#1a1a1a", "fillColor": "white"}},
    "strokeDash": {"field": "treatment", "type": "nominal", "scale": {"domain": ["0 deer km\u22122","7.5 deer km\u22122","15 deer km\u22122","ambient density"], "range": [[1,0],[22,20],[4,21.5],[4,19,25,19]]}, "legend": {"title": null, "orient": "none", "legendX": 1187, "legendY": 618, "direction": "vertical", "symbolType": "M-6.7,0H6.7", "symbolSize": 100, "symbolStrokeWidth": 4, "symbolOffset": 20, "labelOffset": 43, "labelFont": "Liberation Sans", "labelFontSize": 33, "labelColor": "#1a1a1a", "labelLimit": 400, "padding": 22.5, "rowPadding": 8, "strokeColor": "#1a1a1a", "fillColor": "white"}}
   }},
  {"transform": [{"filter": "datum.lo != null"}],
   "mark": {"type": "errorbar", "color": "black", "ticks": {"size": 26, "thickness": 3, "color": "black"}, "rule": {"strokeWidth": 2.5, "color": "black"}},
   "encoding": {"x": {"field": "year", "type": "quantitative", "title": null}, "y": {"field": "lo", "type": "quantitative", "title": null}, "y2": {"field": "hi"}}},
  {"transform": [{"filter": "datum.year === 2002 && datum.treatment === 'ambient density'"}],
   "mark": {"type": "text", "align": "left", "baseline": "alphabetic", "font": "Liberation Sans", "fontWeight": "bold", "fontSize": 28, "color": "#1a1a1a"},
   "encoding": {"x": {"datum": 2001.94}, "y": {"datum": 4.79}, "text": {"field": "panel"}}}
 ]
},
{
 "width": 514, "height": 494,
 "transform": [{"filter": "datum.panel === 'Block\u00a0 A\u00a0 \u2013\u00a0 forest'"}],
 "layer": [
  {"mark": {"type": "line", "strokeWidth": 3.2, "strokeCap": "butt"},
   "encoding": {
    "x": {"field": "year", "type": "quantitative", "title": null, "scale": {"domain": [2001.72, 2009.28], "nice": false, "zero": false}, "axis": {"values": [2002,2003,2004,2005,2006,2007,2008,2009], "format": "d", "labelExpr": "datum.value % 2 === 0 ? datum.label : ''", "tickSize": -9, "tickWidth": 2, "tickColor": "#333", "labelFont": "Liberation Sans", "labelFontSize": 23, "labelColor": "#333", "labelPadding": 41, "labelFlush": false, "labelOverlap": false, "labelBound": false, "title": null}},
    "y": {"field": "mean", "type": "quantitative", "title": null, "scale": {"domain": [-0.23, 5.21], "nice": false, "zero": false}, "axis": {"values": [0,1,2,3,4,5], "labels": false, "tickSize": -8, "tickWidth": 2, "tickColor": "#333", "title": null}},
    "color": {"field": "treatment", "type": "nominal", "scale": {"domain": ["0 deer km\u22122","7.5 deer km\u22122","15 deer km\u22122","ambient density"], "range": ["#ff1a1a","#f0287a","#6b5bd6","#1f24e6"]}, "legend": {"title": null, "orient": "none", "legendX": 1187, "legendY": 618, "direction": "vertical", "symbolType": "M-6.7,0H6.7", "symbolSize": 100, "symbolStrokeWidth": 4, "symbolOffset": 20, "labelOffset": 43, "labelFont": "Liberation Sans", "labelFontSize": 33, "labelColor": "#1a1a1a", "labelLimit": 400, "padding": 22.5, "rowPadding": 8, "strokeColor": "#1a1a1a", "fillColor": "white"}},
    "strokeDash": {"field": "treatment", "type": "nominal", "scale": {"domain": ["0 deer km\u22122","7.5 deer km\u22122","15 deer km\u22122","ambient density"], "range": [[1,0],[22,20],[4,21.5],[4,19,25,19]]}, "legend": {"title": null, "orient": "none", "legendX": 1187, "legendY": 618, "direction": "vertical", "symbolType": "M-6.7,0H6.7", "symbolSize": 100, "symbolStrokeWidth": 4, "symbolOffset": 20, "labelOffset": 43, "labelFont": "Liberation Sans", "labelFontSize": 33, "labelColor": "#1a1a1a", "labelLimit": 400, "padding": 22.5, "rowPadding": 8, "strokeColor": "#1a1a1a", "fillColor": "white"}}
   }},
  {"transform": [{"filter": "datum.lo != null"}],
   "mark": {"type": "errorbar", "color": "black", "ticks": {"size": 26, "thickness": 3, "color": "black"}, "rule": {"strokeWidth": 2.5, "color": "black"}},
   "encoding": {"x": {"field": "year", "type": "quantitative", "title": null}, "y": {"field": "lo", "type": "quantitative", "title": null}, "y2": {"field": "hi"}}},
  {"transform": [{"filter": "datum.year === 2002 && datum.treatment === 'ambient density'"}],
   "mark": {"type": "text", "align": "left", "baseline": "alphabetic", "font": "Liberation Sans", "fontWeight": "bold", "fontSize": 28, "color": "#1a1a1a"},
   "encoding": {"x": {"datum": 2001.94}, "y": {"datum": 4.79}, "text": {"field": "panel"}}}
 ]
},
{
 "width": 514, "height": 494,
 "transform": [{"filter": "datum.panel === 'Block\u00a0 B\u00a0 \u2013\u00a0 forest'"}],
 "layer": [
  {"mark": {"type": "line", "strokeWidth": 3.2, "strokeCap": "butt"},
   "encoding": {
    "x": {"field": "year", "type": "quantitative", "scale": {"domain": [2001.72, 2009.28], "nice": false, "zero": false}, "axis": {"values": [2002,2003,2004,2005,2006,2007,2008,2009], "format": "d", "labelExpr": "datum.value % 2 === 0 ? datum.label : ''", "tickSize": -9, "tickWidth": 2, "tickColor": "#333", "labelFont": "Liberation Sans", "labelFontSize": 23, "labelColor": "#333", "labelPadding": 41, "labelFlush": false, "labelOverlap": false, "labelBound": false, "title": "Year", "titleFont": "Liberation Sans", "titleFontSize": 22, "titleFontWeight": "normal", "titleColor": "#333", "titlePadding": 25}},
    "y": {"field": "mean", "type": "quantitative", "title": null, "scale": {"domain": [-0.23, 5.21], "nice": false, "zero": false}, "axis": {"values": [0,1,2,3,4,5], "labels": false, "tickSize": -8, "tickWidth": 2, "tickColor": "#333", "title": null}},
    "color": {"field": "treatment", "type": "nominal", "scale": {"domain": ["0 deer km\u22122","7.5 deer km\u22122","15 deer km\u22122","ambient density"], "range": ["#ff1a1a","#f0287a","#6b5bd6","#1f24e6"]}, "legend": {"title": null, "orient": "none", "legendX": 1187, "legendY": 618, "direction": "vertical", "symbolType": "M-6.7,0H6.7", "symbolSize": 100, "symbolStrokeWidth": 4, "symbolOffset": 20, "labelOffset": 43, "labelFont": "Liberation Sans", "labelFontSize": 33, "labelColor": "#1a1a1a", "labelLimit": 400, "padding": 22.5, "rowPadding": 8, "strokeColor": "#1a1a1a", "fillColor": "white"}},
    "strokeDash": {"field": "treatment", "type": "nominal", "scale": {"domain": ["0 deer km\u22122","7.5 deer km\u22122","15 deer km\u22122","ambient density"], "range": [[1,0],[22,20],[4,21.5],[4,19,25,19]]}, "legend": {"title": null, "orient": "none", "legendX": 1187, "legendY": 618, "direction": "vertical", "symbolType": "M-6.7,0H6.7", "symbolSize": 100, "symbolStrokeWidth": 4, "symbolOffset": 20, "labelOffset": 43, "labelFont": "Liberation Sans", "labelFontSize": 33, "labelColor": "#1a1a1a", "labelLimit": 400, "padding": 22.5, "rowPadding": 8, "strokeColor": "#1a1a1a", "fillColor": "white"}}
   }},
  {"transform": [{"filter": "datum.lo != null"}],
   "mark": {"type": "errorbar", "color": "black", "ticks": {"size": 26, "thickness": 3, "color": "black"}, "rule": {"strokeWidth": 2.5, "color": "black"}},
   "encoding": {"x": {"field": "year", "type": "quantitative"}, "y": {"field": "lo", "type": "quantitative", "title": null}, "y2": {"field": "hi"}}},
  {"transform": [{"filter": "datum.year === 2002 && datum.treatment === 'ambient density'"}],
   "mark": {"type": "text", "align": "left", "baseline": "alphabetic", "font": "Liberation Sans", "fontWeight": "bold", "fontSize": 28, "color": "#1a1a1a"},
   "encoding": {"x": {"datum": 2001.94}, "y": {"datum": 4.79}, "text": {"field": "panel"}}}
 ]
},
{
 "width": 514, "height": 494,
 "transform": [{"filter": "datum.panel === 'Block\u00a0 C\u00a0 \u2013\u00a0 forest'"}],
 "layer": [
  {"mark": {"type": "line", "strokeWidth": 3.2, "strokeCap": "butt"},
   "encoding": {
    "x": {"field": "year", "type": "quantitative", "scale": {"domain": [2001.72, 2009.28], "nice": false, "zero": false}, "axis": {"values": [2002,2003,2004,2005,2006,2007,2008,2009], "format": "d", "labelExpr": "datum.value % 2 === 0 ? datum.label : ''", "tickSize": -9, "tickWidth": 2, "tickColor": "#333", "labelFont": "Liberation Sans", "labelFontSize": 23, "labelColor": "#333", "labelPadding": 41, "labelFlush": false, "labelOverlap": false, "labelBound": false, "title": "Hidding et al. in p", "titleAnchor": "end", "titleFont": "Lato", "titleFontSize": 38, "titleFontWeight": "normal", "titleColor": "#000", "titlePadding": 18}},
    "y": {"field": "mean", "type": "quantitative", "title": null, "scale": {"domain": [-0.23, 5.21], "nice": false, "zero": false}, "axis": {"values": [0,1,2,3,4,5], "labels": false, "tickSize": -8, "tickWidth": 2, "tickColor": "#333", "title": null}},
    "color": {"field": "treatment", "type": "nominal", "scale": {"domain": ["0 deer km\u22122","7.5 deer km\u22122","15 deer km\u22122","ambient density"], "range": ["#ff1a1a","#f0287a","#6b5bd6","#1f24e6"]}, "legend": {"title": null, "orient": "none", "legendX": 1187, "legendY": 618, "direction": "vertical", "symbolType": "M-6.7,0H6.7", "symbolSize": 100, "symbolStrokeWidth": 4, "symbolOffset": 20, "labelOffset": 43, "labelFont": "Liberation Sans", "labelFontSize": 33, "labelColor": "#1a1a1a", "labelLimit": 400, "padding": 22.5, "rowPadding": 8, "strokeColor": "#1a1a1a", "fillColor": "white"}},
    "strokeDash": {"field": "treatment", "type": "nominal", "scale": {"domain": ["0 deer km\u22122","7.5 deer km\u22122","15 deer km\u22122","ambient density"], "range": [[1,0],[22,20],[4,21.5],[4,19,25,19]]}, "legend": {"title": null, "orient": "none", "legendX": 1187, "legendY": 618, "direction": "vertical", "symbolType": "M-6.7,0H6.7", "symbolSize": 100, "symbolStrokeWidth": 4, "symbolOffset": 20, "labelOffset": 43, "labelFont": "Liberation Sans", "labelFontSize": 33, "labelColor": "#1a1a1a", "labelLimit": 400, "padding": 22.5, "rowPadding": 8, "strokeColor": "#1a1a1a", "fillColor": "white"}}
   }},
  {"transform": [{"filter": "datum.lo != null"}],
   "mark": {"type": "errorbar", "color": "black", "ticks": {"size": 26, "thickness": 3, "color": "black"}, "rule": {"strokeWidth": 2.5, "color": "black"}},
   "encoding": {"x": {"field": "year", "type": "quantitative"}, "y": {"field": "lo", "type": "quantitative", "title": null}, "y2": {"field": "hi"}}},
  {"transform": [{"filter": "datum.year === 2002 && datum.treatment === 'ambient density'"}],
   "mark": {"type": "text", "align": "left", "baseline": "alphabetic", "font": "Liberation Sans", "fontWeight": "bold", "fontSize": 28, "color": "#1a1a1a"},
   "encoding": {"x": {"datum": 2001.94}, "y": {"datum": 4.79}, "text": {"field": "panel"}}}
 ]
}
]
}
